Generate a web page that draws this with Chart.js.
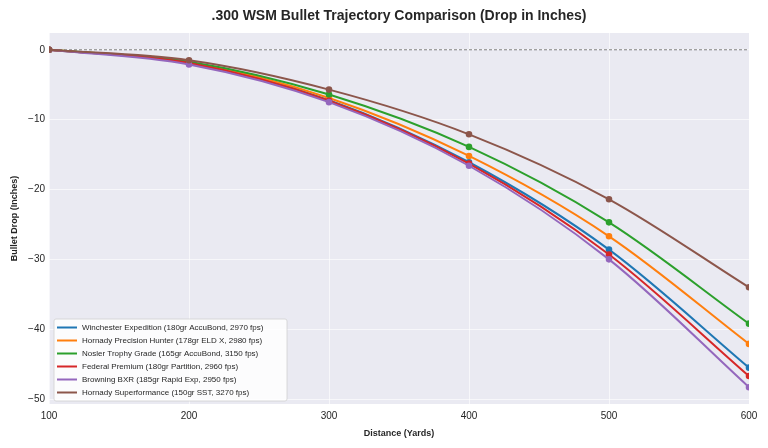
<!DOCTYPE html>
<html>
<head>
<meta charset="utf-8">
<script src="https://cdn.jsdelivr.net/npm/chart.js@4.4.0/dist/chart.umd.min.js"></script>
<style>
  html, body { margin: 0; padding: 0; background: #fff; }
  #wrap { width: 768px; height: 448px; }
</style>
</head>
<body>
<div id="wrap"><canvas id="chart" width="768" height="448"></canvas></div>
<script>
// distances in yards
const distances = [100, 200, 300, 400, 500, 600];

const labels = [
  'Winchester Expedition (180gr AccuBond, 2970 fps)',
  'Hornady Precision Hunter (178gr ELD X, 2980 fps)',
  'Nosler Trophy Grade (165gr AccuBond, 3150 fps)',
  'Federal Premium (180gr Partition, 2960 fps)',
  'Browning BXR (185gr Rapid Exp, 2950 fps)',
  'Hornady Superformance (150gr SST, 3270 fps)'
];

// drop in inches
const winchester = [0, -1.9, -7.2, -16.1, -28.6, -45.5];
const hornadyPH  = [0, -1.8, -6.9, -15.2, -26.7, -42.1];
const nosler     = [0, -1.7, -6.4, -13.9, -24.7, -39.2];
const federal    = [0, -1.9, -7.3, -16.3, -29.3, -46.7];
const browning   = [0, -2.1, -7.5, -16.6, -30.0, -48.3];
const superform  = [0, -1.5, -5.7, -12.1, -21.4, -34.0];

const colors = ['#1f77b4', '#ff7f0e', '#2ca02c', '#d62728', '#9467bd', '#8c564b'];
const series = [winchester, hornadyPH, nosler, federal, browning, superform];

const TITLE = '.300 WSM Bullet Trajectory Comparison (Drop in Inches)';
const FONT = '"Liberation Sans", Arial, sans-serif';

const datasets = series.map((vals, i) => ({
  label: labels[i],
  data: vals.map((v, j) => ({ x: distances[j], y: v })),
  borderColor: colors[i],
  backgroundColor: colors[i],
  borderWidth: 2,
  pointRadius: 2.3,
  pointHoverRadius: 2.3,
  cubicInterpolationMode: 'monotone',
  order: series.length - 1 - i
}));

const plotBg = {
  id: 'plotBg',
  beforeDraw(chart) {
    const { ctx, chartArea: a } = chart;
    ctx.save();
    ctx.fillStyle = '#eaeaf2';
    ctx.fillRect(a.left, a.top, a.right - a.left, a.bottom - a.top);
    // title centred over the plot area
    ctx.fillStyle = '#262626';
    ctx.font = 'bold 14px ' + FONT;
    ctx.textAlign = 'center';
    ctx.textBaseline = 'middle';
    ctx.fillText(TITLE, (a.left + a.right) / 2, 16);
    ctx.restore();
  },
  beforeDatasetsDraw(chart) {
    // dashed zero line
    const { ctx, chartArea: a, scales } = chart;
    const y = scales.y.getPixelForValue(0);
    ctx.save();
    ctx.strokeStyle = 'rgba(60,60,60,0.8)';
    ctx.lineWidth = 0.8;
    ctx.setLineDash([3, 2]);
    ctx.beginPath();
    ctx.moveTo(a.left, y);
    ctx.lineTo(a.right, y);
    ctx.stroke();
    ctx.restore();
  }
};

const innerLegend = {
  id: 'innerLegend',
  afterDraw(chart) {
    const { ctx, chartArea: a } = chart;
    const rowH = 13;
    const x0 = a.left + 5, w = 233;
    const h = rowH * labels.length + 4;
    const y0 = a.bottom - 3 - h;
    ctx.save();
    ctx.fillStyle = 'rgba(255,255,255,0.85)';
    ctx.strokeStyle = '#d0d0d0';
    ctx.lineWidth = 0.8;
    ctx.beginPath();
    ctx.roundRect(x0, y0, w, h, 2);
    ctx.fill();
    ctx.stroke();
    ctx.font = '8px ' + FONT;
    ctx.textBaseline = 'middle';
    labels.forEach((lab, i) => {
      const cy = y0 + 8.5 + i * rowH;
      ctx.strokeStyle = colors[i];
      ctx.lineWidth = 2;
      ctx.beginPath();
      ctx.moveTo(x0 + 3, cy);
      ctx.lineTo(x0 + 23, cy);
      ctx.stroke();
      ctx.fillStyle = '#262626';
      ctx.fillText(lab, x0 + 28, cy);
    });
    ctx.restore();
  }
};

new Chart(document.getElementById('chart'), {
  type: 'line',
  data: { datasets: datasets },
  options: {
    responsive: false,
    animation: false,
    layout: { padding: { left: 9, right: 19, top: 33, bottom: 0 } },
    plugins: {
      legend: { display: false },
      tooltip: { enabled: false },
      title: { display: false }
    },
    scales: {
      x: {
        type: 'linear',
        min: 100,
        max: 600,
        border: { display: false },
        grid: { color: 'rgba(255,255,255,0.75)', lineWidth: 0.8, drawTicks: false },
        ticks: { stepSize: 100, color: '#262626', padding: 6, font: { family: FONT, size: 10 } },
        title: {
          display: true,
          text: 'Distance (Yards)',
          color: '#262626',
          font: { family: FONT, size: 9, weight: 'bold' },
          padding: { top: 4, bottom: 9 }
        },
        afterFit(s) { s.height = 44; }
      },
      y: {
        min: -50.7,
        max: 2.4,
        border: { display: false },
        grid: { color: 'rgba(255,255,255,0.75)', lineWidth: 0.8, drawTicks: false },
        ticks: {
          stepSize: 10,
          color: '#262626',
          padding: 4,
          font: { family: FONT, size: 10 },
          callback: v => (v < 0 ? '\u2212' + Math.abs(v) : String(v))
        },
        afterBuildTicks(s) {
          s.ticks = [0, -10, -20, -30, -40, -50].map(v => ({ value: v }));
        },
        title: {
          display: true,
          text: 'Bullet Drop (Inches)',
          color: '#262626',
          font: { family: FONT, size: 9, weight: 'bold' },
          padding: { top: 0, bottom: 4 }
        },
        afterFit(s) { s.width = 40; }
      }
    }
  },
  plugins: [plotBg, innerLegend]
});
</script>
</body>
</html>
